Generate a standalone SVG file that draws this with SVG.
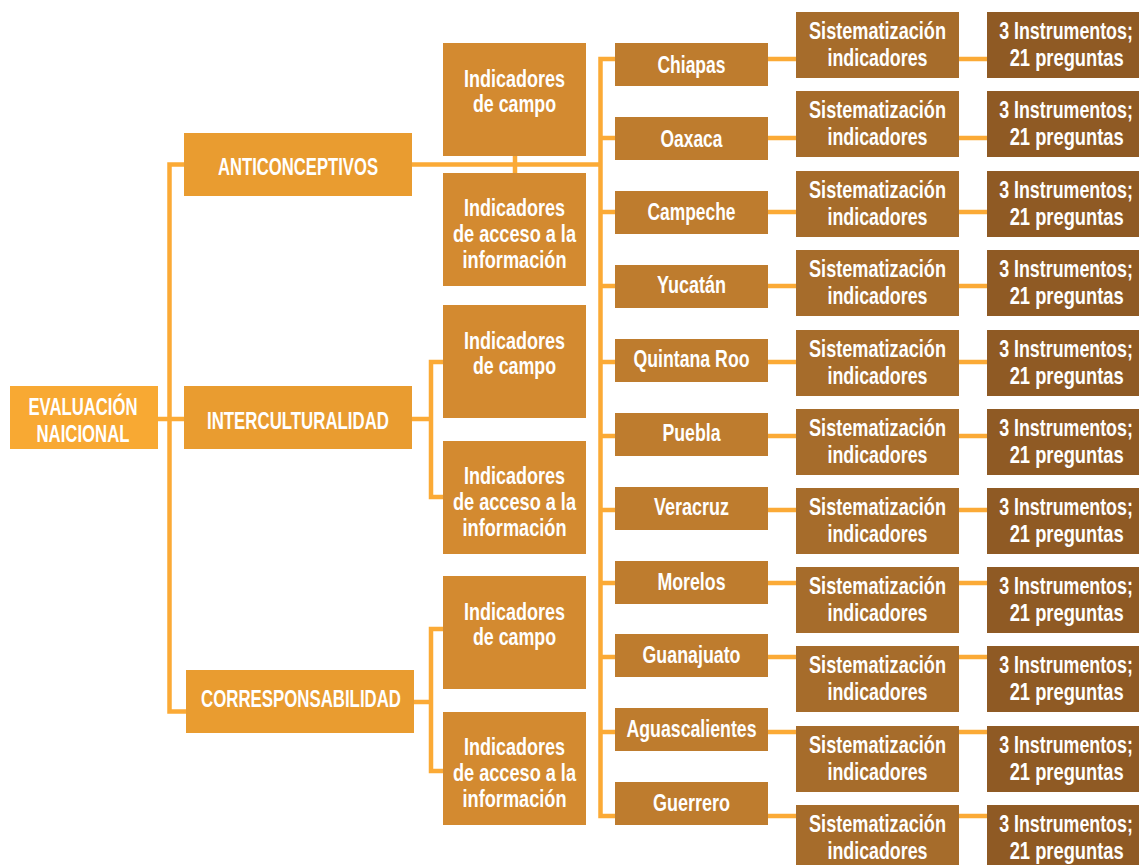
<svg xmlns="http://www.w3.org/2000/svg" width="1139" height="865" viewBox="0 0 1139 865">
<style>
.c{fill:none;stroke:#FBAA36;stroke-width:4.5}
.t{font-family:"Liberation Sans Narrow","Liberation Sans","DejaVu Sans Condensed",sans-serif;font-weight:bold;font-size:24px;fill:#FFFFFF;text-anchor:middle}
.l1{fill:#F8A933}.l2{fill:#E99C30}.l3{fill:#D38A30}.l4{fill:#BE7C2E}.l5{fill:#A66C2B}.l6{fill:#8F5A24}
</style>
<rect width="1139" height="865" fill="#FFFFFF"/>
<g id="connectors">
<path class="c" d="M158 419H184M184 164.5H169.5V711.5H186"/>
<path class="c" d="M412 164.5H600.5M515 156V173"/>
<path class="c" d="M412 419H431M443 362H431V497H443"/>
<path class="c" d="M414 702H431M443 629H431V771H443"/>
<path class="c" d="M615 59H600.5V816H615"/>
<path class="c" d="M600 138H615M600 212H615M600 286H615M600 362H615M600 436H615M600 510H615M600 583H615M600 657H615M600 732H615"/>
<path class="c" d="M768 59H796M768 138H796M768 212H796M768 286H796M768 362H796M768 436H796M768 510H796M768 583H796M768 657H796M768 732H796M768 816H796"/>
<path class="c" d="M959 59H987M959 138H987M959 212H987M959 286H987M959 362H987M959 436H987M959 510H987M959 583H987M959 657H987M959 732H987M959 816H987"/>
</g>
<g id="root"><rect class="l1" x="10" y="386" width="148" height="63"/><text class="t" x="83" y="415" textLength="109" lengthAdjust="spacingAndGlyphs">EVALUACIÓN</text><text class="t" x="83" y="442" textLength="93" lengthAdjust="spacingAndGlyphs">NAICIONAL</text></g>
<g id="anticonceptivos"><rect class="l2" x="184" y="133" width="228" height="63"/><text class="t" x="298" y="175" textLength="160" lengthAdjust="spacingAndGlyphs">ANTICONCEPTIVOS</text></g>
<g id="interculturalidad"><rect class="l2" x="184" y="386" width="228" height="63"/><text class="t" x="298" y="429" textLength="182" lengthAdjust="spacingAndGlyphs">INTERCULTURALIDAD</text></g>
<g id="corresponsabilidad"><rect class="l2" x="186" y="670" width="228" height="63"/><text class="t" x="301" y="707" textLength="200" lengthAdjust="spacingAndGlyphs">CORRESPONSABILIDAD</text></g>
<g id="a-campo"><rect class="l3" x="443" y="43" width="143" height="113"/><text class="t" x="514.5" y="87" textLength="101" lengthAdjust="spacingAndGlyphs">Indicadores</text><text class="t" x="514.5" y="112" textLength="83" lengthAdjust="spacingAndGlyphs">de campo</text></g>
<g id="a-acceso"><rect class="l3" x="443" y="173" width="143" height="113"/><text class="t" x="514.5" y="216" textLength="101" lengthAdjust="spacingAndGlyphs">Indicadores</text><text class="t" x="514.5" y="242" textLength="123" lengthAdjust="spacingAndGlyphs">de acceso a la</text><text class="t" x="514.5" y="268" textLength="104" lengthAdjust="spacingAndGlyphs">información</text></g>
<g id="i-campo"><rect class="l3" x="443" y="305" width="143" height="113"/><text class="t" x="514.5" y="349" textLength="101" lengthAdjust="spacingAndGlyphs">Indicadores</text><text class="t" x="514.5" y="374" textLength="83" lengthAdjust="spacingAndGlyphs">de campo</text></g>
<g id="i-acceso"><rect class="l3" x="443" y="441" width="143" height="113"/><text class="t" x="514.5" y="484" textLength="101" lengthAdjust="spacingAndGlyphs">Indicadores</text><text class="t" x="514.5" y="510" textLength="123" lengthAdjust="spacingAndGlyphs">de acceso a la</text><text class="t" x="514.5" y="536" textLength="104" lengthAdjust="spacingAndGlyphs">información</text></g>
<g id="c-campo"><rect class="l3" x="443" y="576" width="143" height="113"/><text class="t" x="514.5" y="620" textLength="101" lengthAdjust="spacingAndGlyphs">Indicadores</text><text class="t" x="514.5" y="645" textLength="83" lengthAdjust="spacingAndGlyphs">de campo</text></g>
<g id="c-acceso"><rect class="l3" x="443" y="712" width="143" height="113"/><text class="t" x="514.5" y="755" textLength="101" lengthAdjust="spacingAndGlyphs">Indicadores</text><text class="t" x="514.5" y="781" textLength="123" lengthAdjust="spacingAndGlyphs">de acceso a la</text><text class="t" x="514.5" y="807" textLength="104" lengthAdjust="spacingAndGlyphs">información</text></g>
<g id="chiapas"><rect class="l4" x="615" y="43" width="153" height="43"/><text class="t" x="691.5" y="73" textLength="68" lengthAdjust="spacingAndGlyphs">Chiapas</text></g>
<g id="oaxaca"><rect class="l4" x="615" y="117" width="153" height="43"/><text class="t" x="691.5" y="147" textLength="62" lengthAdjust="spacingAndGlyphs">Oaxaca</text></g>
<g id="campeche"><rect class="l4" x="615" y="191" width="153" height="43"/><text class="t" x="691.5" y="220" textLength="88" lengthAdjust="spacingAndGlyphs">Campeche</text></g>
<g id="yucatan"><rect class="l4" x="615" y="265" width="153" height="43"/><text class="t" x="691.5" y="293" textLength="69" lengthAdjust="spacingAndGlyphs">Yucatán</text></g>
<g id="quintana-roo"><rect class="l4" x="615" y="339" width="153" height="43"/><text class="t" x="691.5" y="367" textLength="116" lengthAdjust="spacingAndGlyphs">Quintana Roo</text></g>
<g id="puebla"><rect class="l4" x="615" y="413" width="153" height="43"/><text class="t" x="691.5" y="441" textLength="58" lengthAdjust="spacingAndGlyphs">Puebla</text></g>
<g id="veracruz"><rect class="l4" x="615" y="487" width="153" height="43"/><text class="t" x="691.5" y="515" textLength="75" lengthAdjust="spacingAndGlyphs">Veracruz</text></g>
<g id="morelos"><rect class="l4" x="615" y="561" width="153" height="43"/><text class="t" x="691.5" y="590" textLength="68" lengthAdjust="spacingAndGlyphs">Morelos</text></g>
<g id="guanajuato"><rect class="l4" x="615" y="634" width="153" height="43"/><text class="t" x="691.5" y="663" textLength="98" lengthAdjust="spacingAndGlyphs">Guanajuato</text></g>
<g id="aguascalientes"><rect class="l4" x="615" y="708" width="153" height="43"/><text class="t" x="691.5" y="737" textLength="130" lengthAdjust="spacingAndGlyphs">Aguascalientes</text></g>
<g id="guerrero"><rect class="l4" x="615" y="782" width="153" height="43"/><text class="t" x="691.5" y="811" textLength="77" lengthAdjust="spacingAndGlyphs">Guerrero</text></g>
<g id="sist-1"><rect class="l5" x="796" y="12" width="163" height="66"/><text class="t" x="877.5" y="39" textLength="137" lengthAdjust="spacingAndGlyphs">Sistematización</text><text class="t" x="877.5" y="66" textLength="100" lengthAdjust="spacingAndGlyphs">indicadores</text></g>
<g id="sist-2"><rect class="l5" x="796" y="91" width="163" height="66"/><text class="t" x="877.5" y="118" textLength="137" lengthAdjust="spacingAndGlyphs">Sistematización</text><text class="t" x="877.5" y="145" textLength="100" lengthAdjust="spacingAndGlyphs">indicadores</text></g>
<g id="sist-3"><rect class="l5" x="796" y="171" width="163" height="66"/><text class="t" x="877.5" y="198" textLength="137" lengthAdjust="spacingAndGlyphs">Sistematización</text><text class="t" x="877.5" y="225" textLength="100" lengthAdjust="spacingAndGlyphs">indicadores</text></g>
<g id="sist-4"><rect class="l5" x="796" y="250" width="163" height="66"/><text class="t" x="877.5" y="277" textLength="137" lengthAdjust="spacingAndGlyphs">Sistematización</text><text class="t" x="877.5" y="304" textLength="100" lengthAdjust="spacingAndGlyphs">indicadores</text></g>
<g id="sist-5"><rect class="l5" x="796" y="330" width="163" height="66"/><text class="t" x="877.5" y="357" textLength="137" lengthAdjust="spacingAndGlyphs">Sistematización</text><text class="t" x="877.5" y="384" textLength="100" lengthAdjust="spacingAndGlyphs">indicadores</text></g>
<g id="sist-6"><rect class="l5" x="796" y="409" width="163" height="66"/><text class="t" x="877.5" y="436" textLength="137" lengthAdjust="spacingAndGlyphs">Sistematización</text><text class="t" x="877.5" y="463" textLength="100" lengthAdjust="spacingAndGlyphs">indicadores</text></g>
<g id="sist-7"><rect class="l5" x="796" y="488" width="163" height="66"/><text class="t" x="877.5" y="515" textLength="137" lengthAdjust="spacingAndGlyphs">Sistematización</text><text class="t" x="877.5" y="542" textLength="100" lengthAdjust="spacingAndGlyphs">indicadores</text></g>
<g id="sist-8"><rect class="l5" x="796" y="567" width="163" height="66"/><text class="t" x="877.5" y="594" textLength="137" lengthAdjust="spacingAndGlyphs">Sistematización</text><text class="t" x="877.5" y="621" textLength="100" lengthAdjust="spacingAndGlyphs">indicadores</text></g>
<g id="sist-9"><rect class="l5" x="796" y="646" width="163" height="66"/><text class="t" x="877.5" y="673" textLength="137" lengthAdjust="spacingAndGlyphs">Sistematización</text><text class="t" x="877.5" y="700" textLength="100" lengthAdjust="spacingAndGlyphs">indicadores</text></g>
<g id="sist-10"><rect class="l5" x="796" y="726" width="163" height="66"/><text class="t" x="877.5" y="753" textLength="137" lengthAdjust="spacingAndGlyphs">Sistematización</text><text class="t" x="877.5" y="780" textLength="100" lengthAdjust="spacingAndGlyphs">indicadores</text></g>
<g id="sist-11"><rect class="l5" x="796" y="805" width="163" height="60"/><text class="t" x="877.5" y="832" textLength="137" lengthAdjust="spacingAndGlyphs">Sistematización</text><text class="t" x="877.5" y="859" textLength="100" lengthAdjust="spacingAndGlyphs">indicadores</text></g>
<g id="inst-1"><rect class="l6" x="987" y="12" width="152" height="66"/><g transform="translate(1066,12)"><text class="t" x="0" y="27" transform="scale(0.7,1)" textLength="191" lengthAdjust="spacingAndGlyphs">3 Instrumentos;</text><text class="t" x="1" y="54" transform="scale(0.7,1)" textLength="163" lengthAdjust="spacingAndGlyphs">21 preguntas</text></g></g>
<g id="inst-2"><rect class="l6" x="987" y="91" width="152" height="66"/><g transform="translate(1066,91)"><text class="t" x="0" y="27" transform="scale(0.7,1)" textLength="191" lengthAdjust="spacingAndGlyphs">3 Instrumentos;</text><text class="t" x="1" y="54" transform="scale(0.7,1)" textLength="163" lengthAdjust="spacingAndGlyphs">21 preguntas</text></g></g>
<g id="inst-3"><rect class="l6" x="987" y="171" width="152" height="66"/><g transform="translate(1066,171)"><text class="t" x="0" y="27" transform="scale(0.7,1)" textLength="191" lengthAdjust="spacingAndGlyphs">3 Instrumentos;</text><text class="t" x="1" y="54" transform="scale(0.7,1)" textLength="163" lengthAdjust="spacingAndGlyphs">21 preguntas</text></g></g>
<g id="inst-4"><rect class="l6" x="987" y="250" width="152" height="66"/><g transform="translate(1066,250)"><text class="t" x="0" y="27" transform="scale(0.7,1)" textLength="191" lengthAdjust="spacingAndGlyphs">3 Instrumentos;</text><text class="t" x="1" y="54" transform="scale(0.7,1)" textLength="163" lengthAdjust="spacingAndGlyphs">21 preguntas</text></g></g>
<g id="inst-5"><rect class="l6" x="987" y="330" width="152" height="66"/><g transform="translate(1066,330)"><text class="t" x="0" y="27" transform="scale(0.7,1)" textLength="191" lengthAdjust="spacingAndGlyphs">3 Instrumentos;</text><text class="t" x="1" y="54" transform="scale(0.7,1)" textLength="163" lengthAdjust="spacingAndGlyphs">21 preguntas</text></g></g>
<g id="inst-6"><rect class="l6" x="987" y="409" width="152" height="66"/><g transform="translate(1066,409)"><text class="t" x="0" y="27" transform="scale(0.7,1)" textLength="191" lengthAdjust="spacingAndGlyphs">3 Instrumentos;</text><text class="t" x="1" y="54" transform="scale(0.7,1)" textLength="163" lengthAdjust="spacingAndGlyphs">21 preguntas</text></g></g>
<g id="inst-7"><rect class="l6" x="987" y="488" width="152" height="66"/><g transform="translate(1066,488)"><text class="t" x="0" y="27" transform="scale(0.7,1)" textLength="191" lengthAdjust="spacingAndGlyphs">3 Instrumentos;</text><text class="t" x="1" y="54" transform="scale(0.7,1)" textLength="163" lengthAdjust="spacingAndGlyphs">21 preguntas</text></g></g>
<g id="inst-8"><rect class="l6" x="987" y="567" width="152" height="66"/><g transform="translate(1066,567)"><text class="t" x="0" y="27" transform="scale(0.7,1)" textLength="191" lengthAdjust="spacingAndGlyphs">3 Instrumentos;</text><text class="t" x="1" y="54" transform="scale(0.7,1)" textLength="163" lengthAdjust="spacingAndGlyphs">21 preguntas</text></g></g>
<g id="inst-9"><rect class="l6" x="987" y="646" width="152" height="66"/><g transform="translate(1066,646)"><text class="t" x="0" y="27" transform="scale(0.7,1)" textLength="191" lengthAdjust="spacingAndGlyphs">3 Instrumentos;</text><text class="t" x="1" y="54" transform="scale(0.7,1)" textLength="163" lengthAdjust="spacingAndGlyphs">21 preguntas</text></g></g>
<g id="inst-10"><rect class="l6" x="987" y="726" width="152" height="66"/><g transform="translate(1066,726)"><text class="t" x="0" y="27" transform="scale(0.7,1)" textLength="191" lengthAdjust="spacingAndGlyphs">3 Instrumentos;</text><text class="t" x="1" y="54" transform="scale(0.7,1)" textLength="163" lengthAdjust="spacingAndGlyphs">21 preguntas</text></g></g>
<g id="inst-11"><rect class="l6" x="987" y="805" width="152" height="60"/><g transform="translate(1066,805)"><text class="t" x="0" y="27" transform="scale(0.7,1)" textLength="191" lengthAdjust="spacingAndGlyphs">3 Instrumentos;</text><text class="t" x="1" y="54" transform="scale(0.7,1)" textLength="163" lengthAdjust="spacingAndGlyphs">21 preguntas</text></g></g>
</svg>
